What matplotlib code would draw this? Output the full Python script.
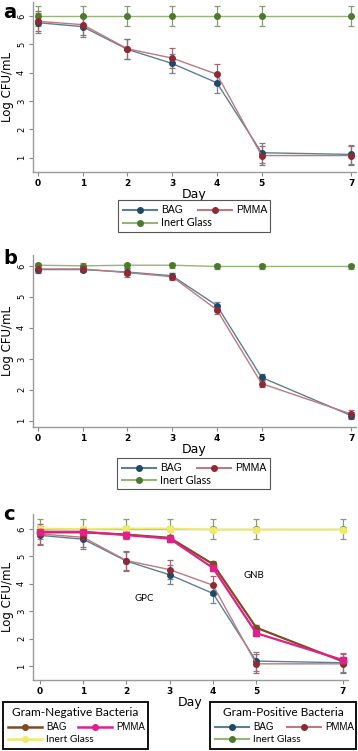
import numpy as np
import matplotlib
matplotlib.use("Agg")
import matplotlib.pyplot as plt
from matplotlib.lines import Line2D
from matplotlib.patches import Rectangle

days = [0, 1, 2, 3, 4, 5, 7]

# gram-positive (panel a)
gp_bag = [5.77, 5.63, 4.83, 4.33, 3.65, 1.18, 1.12]
gp_bag_err = [0.35, 0.35, 0.35, 0.35, 0.35, 0.35, 0.35]
gp_pmma = [5.82, 5.70, 4.85, 4.52, 3.95, 1.08, 1.08]
gp_pmma_err = [0.35, 0.35, 0.35, 0.35, 0.35, 0.35, 0.35]
gp_glass = [6.0, 6.0, 6.0, 6.0, 6.0, 6.0, 6.0]
gp_glass_err = [0.35, 0.35, 0.35, 0.35, 0.35, 0.35, 0.35]

# gram-negative (panel b)
gn_bag = [5.88, 5.88, 5.80, 5.68, 4.72, 2.40, 1.17]
gn_bag_err = [0.10, 0.08, 0.10, 0.10, 0.10, 0.10, 0.10]
gn_pmma = [5.90, 5.90, 5.78, 5.65, 4.58, 2.20, 1.22]
gn_pmma_err = [0.10, 0.08, 0.15, 0.12, 0.12, 0.12, 0.12]
gn_glass = [6.02, 6.00, 6.02, 6.02, 5.98, 5.98, 5.98]
gn_glass_err = [0.08, 0.08, 0.08, 0.08, 0.08, 0.08, 0.08]

legend_labels = ["BAG", "PMMA", "Inert Glass"]

W, H = 358, 751
fig = plt.figure(figsize=(W / 100, H / 100), dpi=100)

def fx(x):
    return x / W

def fy(y):
    return 1 - y / H

def ax_at(x0, x1, y0, y1):
    return fig.add_axes([fx(x0), fy(y1), (x1 - x0) / W, (y1 - y0) / H])

def style(ax, xlim, ylim):
    ax.set_xlim(*xlim)
    ax.set_ylim(*ylim)
    ax.set_xticks(days)
    ax.set_yticks([1, 2, 3, 4, 5, 6])
    for s in ["top", "right"]:
        ax.spines[s].set_visible(False)
    for s in ["left", "bottom"]:
        ax.spines[s].set_color("#9a9a9a")
        ax.spines[s].set_linewidth(1.0)
    ax.tick_params(axis="x", labelsize=6.5, length=3, width=0.8, color="#888888", pad=2)
    ax.tick_params(axis="y", labelsize=6, length=3, width=0.8, color="#888888", pad=2)
    for lab in ax.get_yticklabels():
        lab.set_rotation(90)
        lab.set_va("center")
    for lab in ax.get_xticklabels():
        lab.set_fontweight("bold")
    ax.set_xlabel("Day", fontsize=9, labelpad=0)
    ax.set_ylabel("Log CFU/mL", fontsize=8.5, labelpad=2)

def series(ax, y, e, line_c, mark_c, err_c, lw=1.0, ms=4, marker="o"):
    ax.errorbar(days, y, yerr=e, color=line_c, lw=lw, ecolor=err_c, elinewidth=0.9,
                capsize=2.5, capthick=0.9, marker=marker, ms=ms, mfc=mark_c, mec=mark_c,
                zorder=3, clip_on=False)

blue_l, blue_m, blue_e = "#5d7f92", "#1e4a66", "#6f8593"
red_l, red_m, red_e = "#b97a80", "#8e2a35", "#9c6a70"
grn_l, grn_m, grn_e = "#98b37c", "#4d7a2a", "#8a9a76"
brn = "#7a4b25"
mag = "#e2208a"
yel = "#f0ea6a"

def handle(x0, y, lc, mc, lw=1.5):
    fig.add_artist(Line2D([fx(x0), fx(x0 + 34)], [fy(y), fy(y)], color=lc, lw=lw))
    fig.add_artist(Line2D([fx(x0 + 17)], [fy(y)], marker="o", ms=4, mfc=mc, mec=mc, lw=0))

def draw_legend(box, rows, cols, title=None, edge="#555555", elw=0.8, col2=80, fs=7.5):
    # box = (x0, y0, x1, y1) in pixels; rows = (y1, y2)
    x0, y0, x1, y1 = box
    fig.add_artist(Rectangle((fx(x0), fy(y1)), (x1 - x0) / W, (y1 - y0) / H,
                             fill=False, edgecolor=edge, lw=elw))
    if title:
        fig.text(fx((x0 + x1) / 2), fy(y0 + 10), title, fontsize=8.6, family="Lato",
                 ha="center", va="center")
    (cb, cr, cg), (mb, mr, mg), lw = cols
    hx1, hx2 = x0 + 5, x0 + col2
    handle(hx1, rows[0], cb, mb, lw)
    handle(hx2, rows[0], cr, mr, lw)
    handle(hx1, rows[1], cg, mg, lw)
    fig.text(fx(hx1 + 38), fy(rows[0]), legend_labels[0], fontsize=fs, family="Liberation Sans", va="center")
    fig.text(fx(hx2 + 38), fy(rows[0]), legend_labels[1], fontsize=fs, family="Liberation Sans", va="center")
    fig.text(fx(hx1 + 38), fy(rows[1]), legend_labels[2], fontsize=fs + 0.3, family="Lato", va="center")

gp_cols = ((blue_l, red_l, grn_l), (blue_m, red_m, grn_m), 1.5)
gn_cols = ((brn, mag, yel), (brn, mag, yel), 1.8)

# panel a
ax = ax_at(33, 356, 2, 172)
series(ax, gp_glass, gp_glass_err, grn_l, grn_m, grn_e)
series(ax, gp_bag, gp_bag_err, blue_l, blue_m, blue_e)
series(ax, gp_pmma, gp_pmma_err, red_l, red_m, red_e)
style(ax, (-0.11, 7.11), (0.5, 6.5))
fig.text(fx(3), fy(12), "a", fontsize=14, fontweight="bold", va="center")
draw_legend((118, 200, 270, 232), (210, 223), gp_cols)

# panel b
ax = ax_at(33, 356, 255, 427)
series(ax, gn_glass, gn_glass_err, grn_l, grn_m, grn_e)
series(ax, gn_bag, gn_bag_err, blue_l, blue_m, blue_e)
series(ax, gn_pmma, gn_pmma_err, red_l, red_m, red_e)
style(ax, (-0.11, 7.11), (0.8, 6.35))
fig.text(fx(3), fy(259), "b", fontsize=14, fontweight="bold", va="center")
draw_legend((117, 458, 270, 489), (468, 480), gp_cols)

# panel c
ax = ax_at(33, 348, 514, 680)
series(ax, gp_glass, gp_glass_err, grn_l, grn_m, grn_e)
series(ax, gp_bag, gp_bag_err, blue_l, blue_m, blue_e)
series(ax, gp_pmma, gp_pmma_err, red_l, red_m, red_e)
series(ax, gn_glass, gn_glass_err, yel, yel, "#c9c36a", lw=1.4, ms=4.5)
series(ax, gn_bag, gn_bag_err, brn, brn, "#8a6a4a", lw=1.6, ms=4.5)
series(ax, gn_pmma, gn_pmma_err, mag, mag, "#c8508a", lw=1.6, ms=4.5, marker="s")
style(ax, (-0.16, 7.12), (0.49, 6.55))
ax.text(4.95, 4.3, "GNB", fontsize=7, family="Lato", ha="center", va="center")
ax.text(2.4, 3.45, "GPC", fontsize=7, family="Lato", ha="center", va="center")
fig.text(fx(3), fy(514), "c", fontsize=14, fontweight="bold", va="center")

draw_legend((3, 702, 148, 749), (727, 739), gn_cols,
            title="Gram-Negative Bacteria", edge="#111111", elw=1.4, col2=75, fs=7)
draw_legend((210, 702, 356, 749), (727, 739), gp_cols,
            title="Gram-Positive Bacteria", edge="#111111", elw=1.4, col2=77, fs=7)

fig.savefig("out.png", dpi=100)
